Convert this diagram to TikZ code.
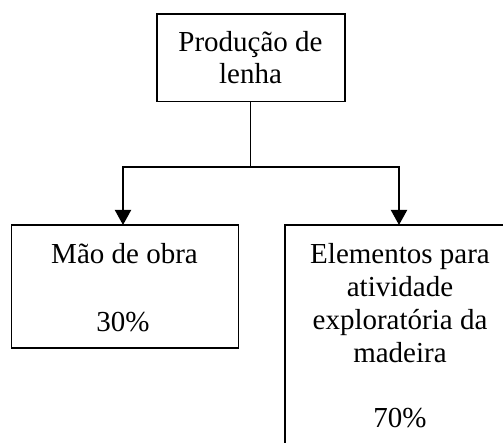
\documentclass[tikz,border=0pt]{standalone}
\usepackage{fontspec}
\setmainfont{Liberation Serif}
\usetikzlibrary{arrows.meta}
\begin{document}
\begin{tikzpicture}[x=1pt,y=-1pt,
  boxstyle/.style={draw=black,line width=1.6pt,fill=none,inner sep=0pt,outer sep=0pt},
  lbl/.style={anchor=base,inner sep=0pt,font=\fontsize{29}{32.7}\selectfont},
  arr/.style={line width=2pt,-{Triangle[length=15pt,width=16pt]}},
  thin/.style={line width=1.1pt}]
\useasboundingbox (0,0) rectangle (503,443);
\clip (0,0) rectangle (503,443);
% boxes
\node[boxstyle,minimum width=188.3pt,minimum height=87.7pt] (top) at (250.85,57.85) {};
\node[boxstyle,minimum width=227pt,minimum height=123.3pt] (lb) at (125,286.65) {};
\node[boxstyle,minimum width=230pt,minimum height=240pt] (rb) at (400,345) {};
% texts
\node[lbl] (t1) at (250.5,51.7) {Produção de};
\node[lbl] (t2) at (250.5,83.3) {lenha};
\node[lbl] (l1) at (124.5,264) {Mão de obra};
\node[lbl] (l2) at (123,331.5) {30\%};
\node[lbl] (r1) at (400,264) {Elementos para};
\node[lbl] (r2) at (400,296.7) {atividade};
\node[lbl] (r3) at (400,329.4) {exploratória da};
\node[lbl] (r4) at (400,362.1) {madeira};
\node[lbl] (r5) at (400,427.5) {70\%};
% connectors
\coordinate (j) at (250.85,167);
\coordinate (jl) at (123,167);
\coordinate (jr) at (399,167);
\draw[thin] (top.south) -- (j);
\draw[line width=2pt] ([xshift=-1pt]jl) -- ([xshift=1pt]jr);
\draw[arr] (jl) -- (jl |- lb.north);
\draw[arr] (jr) -- (jr |- rb.north);
\end{tikzpicture}
\end{document}
